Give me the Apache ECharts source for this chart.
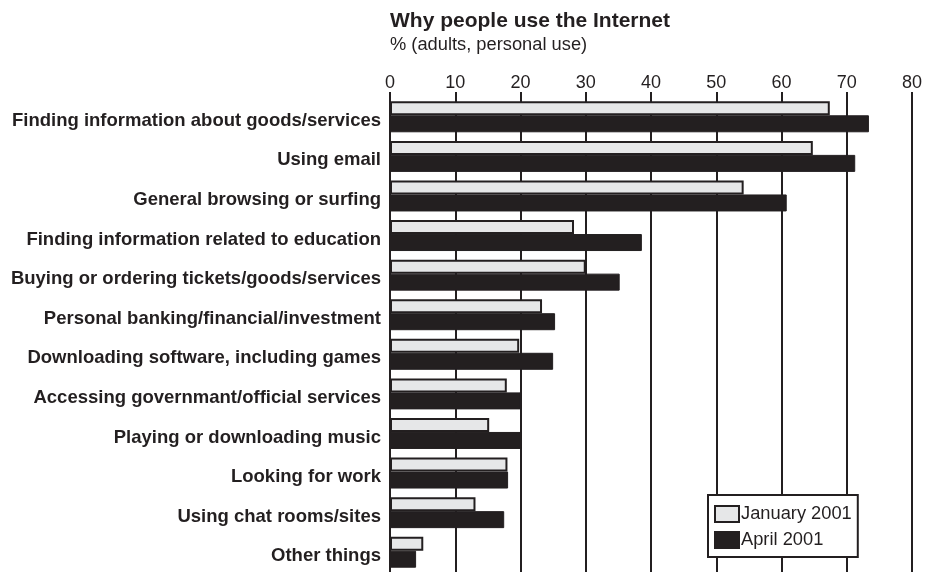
<!DOCTYPE html>
<html>
<head>
<meta charset="utf-8">
<script src="https://cdn.jsdelivr.net/npm/echarts@6/dist/echarts.min.js"></script>
<style>
  html, body { margin: 0; padding: 0; background: #fff; }
  #chart { width: 934px; height: 577px; }
</style>
</head>
<body>
<div id="chart"></div>
<script>
// data
var categories = [
  "Finding information about goods/services",
  "Using email",
  "General browsing or surfing",
  "Finding information related to education",
  "Buying or ordering tickets/goods/services",
  "Personal banking/financial/investment",
  "Downloading software, including games",
  "Accessing governmant/official services",
  "Playing or downloading music",
  "Looking for work",
  "Using chat rooms/sites",
  "Other things"
];
var jan2001 = [67.4, 64.8, 54.2, 28.2, 30.0, 23.3, 19.8, 17.9, 15.2, 18.0, 13.1, 5.1];
var apr2001 = [73.4, 71.3, 60.8, 38.6, 35.2, 25.3, 25.0, 20.0, 20.2, 18.1, 17.5, 4.0];
var seriesNames = ["January 2001", "April 2001"];

var FONT = "Liberation Sans, Arial, Helvetica, sans-serif";
var INK = "#231f20";

var chart = echarts.init(document.getElementById("chart"));
var option = {
  animation: false,
  textStyle: { fontFamily: FONT, color: INK },
  title: {
    text: "Why people use the Internet",
    subtext: "% (adults, personal use)",
    left: 390,
    top: 11,
    padding: 0,
    itemGap: 4,
    textStyle: { fontSize: 21, fontWeight: "bold", color: INK, fontFamily: FONT },
    subtextStyle: { fontSize: 18.3, color: INK, fontFamily: FONT }
  },
  legend: {
    data: seriesNames,
    orient: "vertical",
    left: 708,
    top: 495,
    padding: [10, 6, 8, 6],
    itemGap: 8,
    itemWidth: 24,
    itemHeight: 16,
    icon: "rect",
    borderColor: INK,
    borderWidth: 2,
    backgroundColor: "#fff",
    textStyle: { fontSize: 18.3, color: INK, fontFamily: FONT, padding: [0, 0, 0, -3] }
  },
  grid: { left: 390, right: 22, top: 97, bottom: 5 },
  xAxis: {
    type: "value",
    position: "top",
    min: 0,
    max: 80,
    interval: 10,
    axisLine: { show: false },
    axisTick: { show: true, length: 5, lineStyle: { color: INK, width: 2 } },
    axisLabel: { fontSize: 18, color: INK, fontFamily: FONT, margin: 5 },
    splitLine: { show: true, lineStyle: { color: INK, width: 2 } }
  },
  yAxis: {
    type: "category",
    data: categories,
    inverse: true,
    axisLine: { show: false },
    axisTick: { show: false },
    axisLabel: {
      margin: 9,
      formatter: function (v) { return "{l|" + v + "}"; },
      rich: {
        l: { fontSize: 18.5, fontWeight: "bold", color: INK, fontFamily: FONT, padding: [8, 0, 0, 0] }
      }
    }
  },
  series: [
    {
      name: seriesNames[0],
      type: "bar",
      data: jan2001,
      barGap: "0%",
      barWidth: 14,
      itemStyle: { color: "#e6e7e8", borderColor: INK, borderWidth: 2 }
    },
    {
      name: seriesNames[1],
      type: "bar",
      data: apr2001,
      barWidth: 17,
      itemStyle: { color: INK, borderColor: INK, borderWidth: 1 }
    }
  ]
};
chart.setOption(option);
</script>
</body>
</html>
